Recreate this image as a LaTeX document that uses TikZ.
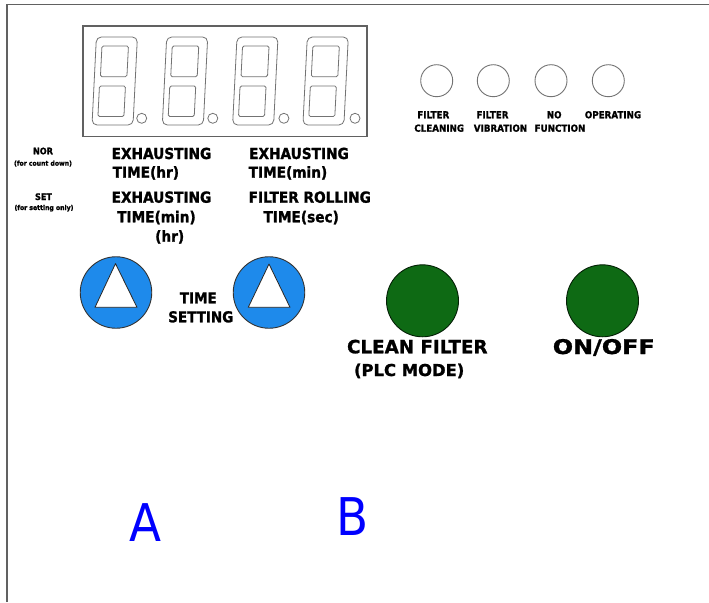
\documentclass[tikz,border=0pt]{standalone}
\usepackage{fontspec}
\setmainfont{DejaVu Sans}[BoldFeatures={FakeBold=1.2}]
\newfontfamily\lf{DejaVu Sans}[FakeStretch=0.9, BoldFeatures={FakeBold=1.4}]
\definecolor{framegray}{gray}{0.38}
\definecolor{segray}{gray}{0.45}
\definecolor{btnblue}{RGB}{30,138,235}
\definecolor{btngreen}{RGB}{14,106,20}
\definecolor{letblue}{RGB}{0,0,255}
\tikzset{
  frameline/.style={draw=framegray, line width=1.5pt},
  dispframe/.style={draw=framegray, line width=1.2pt, inner sep=0pt, minimum width=284pt, minimum height=110.5pt},
  segline/.style={draw=segray, line width=0.8pt},
  led/.style={circle, draw=segray, line width=0.9pt, minimum size=32pt, inner sep=0pt},
  bluebtn/.style={circle, draw=black!80, fill=btnblue, line width=0.9pt, minimum size=71.5pt, inner sep=0pt},
  greenbtn/.style={circle, draw=black!70!btngreen, fill=btngreen, line width=0.9pt, minimum size=72pt, inner sep=0pt},
  tri/.style={draw=black!85, fill=white, line width=0.8pt, line join=round},
  txt/.style={inner sep=0pt, anchor=base},
  modelbl/.style={txt, font=\lf\bfseries\fontsize{9}{10}\selectfont},
  notelbl/.style={txt, font=\lf\bfseries\fontsize{6.8}{8}\selectfont},
  mainlbl/.style={txt, anchor=base west, font=\lf\bfseries\fontsize{15.2}{17}\selectfont},
  ledlbl/.style={txt, font=\lf\bfseries\fontsize{9.7}{11}\selectfont},
  setlbl/.style={txt, font=\lf\bfseries\fontsize{15}{17}\selectfont},
  biglbl/.style={txt, font=\bfseries\fontsize{18.3}{20}\selectfont},
  midlbl/.style={txt, font=\bfseries\fontsize{16.4}{20}\selectfont},
  letter/.style={txt, text=letblue, font=\lf\fontsize{52}{60}\selectfont},
}
\begin{document}
\begin{tikzpicture}[x=1pt,y=-1pt]
\useasboundingbox (0,0) rectangle (709,602);
\fill[white] (0,0) rectangle (709,602);
% outer frame
\coordinate (fbl) at (7,602);
\coordinate (ftl) at (7,4.5);
\coordinate (ftr) at (709,4.5);
\draw[frameline] (fbl) -- (ftl) -- (ftr);
% display
\node[dispframe] (display) at (225,81.25) {};
\foreach \i in {0,...,3}{
  \pgfmathsetmacro\xo{92+70.3*\i+6.25}
  \begin{scope}[shift={(\xo,0)}, xslant=0.05]
    \draw[segline, rounded corners=5pt] (0,37) rectangle (41,125);
    \draw[segline, rounded corners=1.5pt] (6,46) rectangle (32.5,76.7);
    \draw[segline, rounded corners=1.5pt] (5.5,86) rectangle (31.5,116.5);
  \end{scope}
  \pgfmathsetmacro\xd{141.7+71.1*\i}
  \node[circle, segline, minimum size=10pt, inner sep=0pt] (dot\i) at (\xd,118.3) {};
}
% indicator LEDs
\node[led] (led1) at (436.7,80.7) {};
\node[led] (led2) at (493.3,80.7) {};
\node[led] (led3) at (551,80.7) {};
\node[led] (led4) at (608.3,80.7) {};
\node[ledlbl] (l1a) at (433.3,118.3) {FILTER};
\node[ledlbl] (l1b) at (439.2,131.7) {CLEANING};
\node[ledlbl] (l2a) at (492.5,118.3) {FILTER};
\node[ledlbl] (l2b) at (500.5,131.7) {VIBRATION};
\node[ledlbl] (l3a) at (554.2,118.3) {NO};
\node[ledlbl] (l3b) at (560,131.7) {FUNCTION};
\node[ledlbl] (l4a) at (613,118.3) {OPERATING};
% mode labels
\node[modelbl] (nor) at (43,154.3) {NOR};
\node[notelbl] (nornote) at (43,165.7) {(for count down)};
\node[modelbl] (set) at (43.5,200) {SET};
\node[notelbl] (setnote) at (44,210) {(for setting only)};
\node[mainlbl] (exh1) at (111.5,159) {EXHAUSTING};
\node[mainlbl] (t1) at (112.5,177.7) {TIME(hr)};
\node[mainlbl] (exh2) at (249,159) {EXHAUSTING};
\node[mainlbl] (t2) at (248.5,177.7) {TIME(min)};
\node[mainlbl] (exh3) at (111.5,202.7) {EXHAUSTING};
\node[mainlbl] (t3) at (117,222.3) {TIME(min)};
\node[mainlbl] (t3b) at (155,241.7) {(hr)};
\node[mainlbl] (fr) at (248.5,202.7) {FILTER ROLLING};
\node[mainlbl] (t4) at (263.3,222.3) {TIME(sec)};
% time setting buttons
\node[bluebtn] (up1) at (116,292.5) {};
\node[bluebtn] (up2) at (269,292.5) {};
\draw[tri] (up1.center) ++(-0.5,-28.9) -- ++(-20.5,43.7) -- ++(42,0) -- cycle;
\draw[tri] (up2.center) ++(0,-28.5) -- ++(-20.7,43.3) -- ++(41.7,0) -- cycle;
\node[setlbl] (tsa) at (198.3,303.3) {TIME};
\node[setlbl] (tsb) at (200.8,322.3) {SETTING};
% green buttons
\node[greenbtn] (clean) at (422.5,300.8) {};
\node[greenbtn] (onoff) at (602.5,300.8) {};
\node[biglbl] (cla) at (417.3,353.3) {CLEAN FILTER};
\node[midlbl] (clb) at (409.2,376) {(PLC MODE)};
\node[txt, font=\bfseries] (onl) at (603.8,354) {\resizebox{102pt}{15pt}{ON/OFF}};
% letters
\node[letter] (la) at (145.5,541) {A};
\node[letter] (lb) at (352.5,535) {B};
\end{tikzpicture}
\end{document}
